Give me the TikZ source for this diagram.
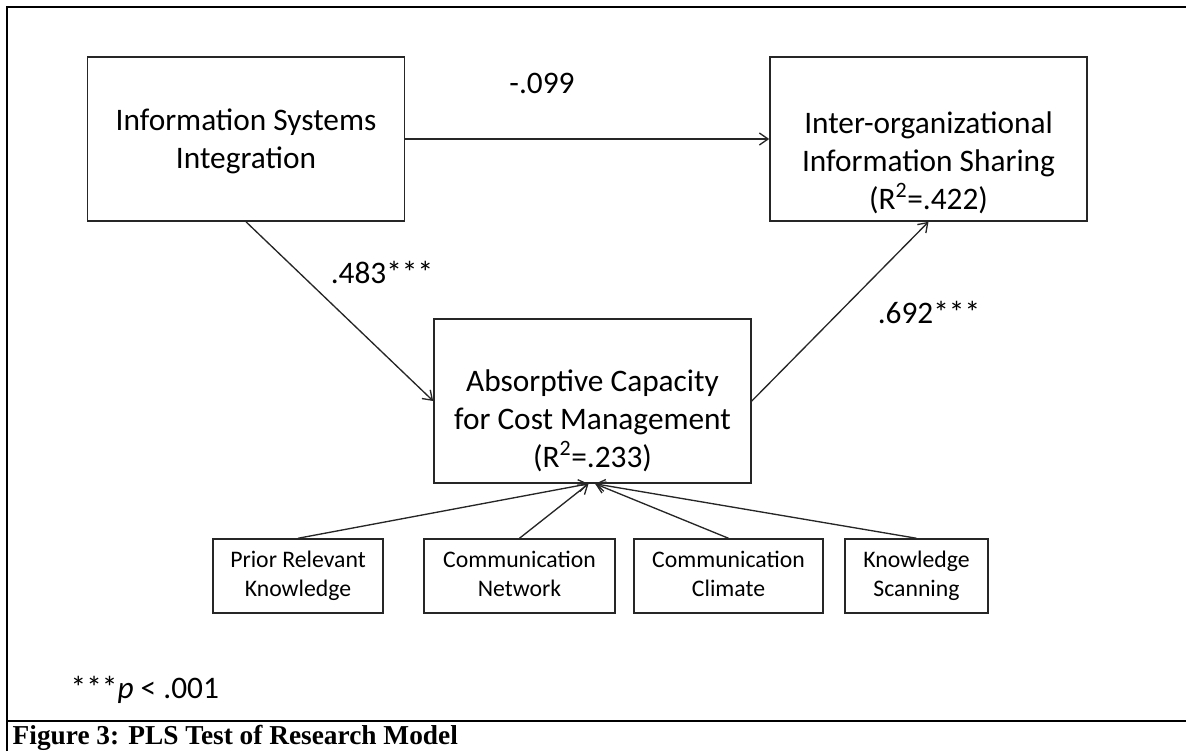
\documentclass[tikz,border=0pt]{standalone}
\usepackage{fontspec}
\setmainfont{Carlito}
\newfontfamily\capfont{Liberation Serif}
\usetikzlibrary{arrows.meta}

\begin{document}
\begin{tikzpicture}[
    x=0.75pt, y=-0.75pt,
    >={Straight Barb[length=6.5pt,width=9pt]},
    box/.style={
        draw=black!85,
        line width=1.2pt,
        inner sep=0pt,
        minimum width=237.75pt,
        minimum height=123pt
    },
    txt/.style={
        align=center,
        font=\fontsize{23.5}{28.5}\selectfont
    },
    smallbox/.style={
        draw=black!85,
        line width=1.1pt,
        inner sep=0pt,
        minimum height=55.5pt,
        align=center,
        font=\fontsize{17.8}{21.75}\selectfont
    },
    coef/.style={font=\fontsize{23.5}{28}\selectfont},
    arr/.style={->, line width=1pt, black!85}
]
    \useasboundingbox (0,0) rectangle (1186,751);

    % frame of the figure
    \draw[line width=2pt] (7,751) -- (7,7) -- (1186,7);
    \draw[line width=2pt] (7,721) -- (1186,721);

    % constructs
    \node[box] (isi) at (246,139) {};
    \node[txt] (isit) at (246,141)
        {Information Systems\\Integration};
    \node[box] (iois) at (928.5,139) {};
    \node[txt] (ioist) at (928.5,163)
        {Inter-organizational\\Information Sharing\\(R\textsuperscript{2}=.422)};
    \node[box] (accm) at (592.5,401) {};
    \node[txt] (accmt) at (592.5,421)
        {Absorptive Capacity\\for Cost Management\\(R\textsuperscript{2}=.233)};

    % formative indicators
    \node[smallbox, minimum width=127.5pt] (prk) at (298,576)
        {\strut Prior Relevant\\\strut Knowledge};
    \node[smallbox, minimum width=143.25pt] (cn) at (519.5,576)
        {\strut Communication\\\strut Network};
    \node[smallbox, minimum width=141.75pt] (cc) at (728.5,576)
        {\strut Communication\\\strut Climate};
    \node[smallbox, minimum width=107.25pt] (ks) at (916.5,576)
        {\strut Knowledge\\\strut Scanning};

    % paths
    \draw[arr] (isi) -- (iois);
    \draw[arr] (isi.south) -- (accm.west);
    \draw[arr] (accm.east) -- (iois.south);
    \draw[arr] (prk.north) -- ([xshift=-3pt]accm.south);
    \draw[arr] (cn.north) -- ([xshift=-3pt]accm.south);
    \draw[arr] (cc.north) -- ([xshift=2pt]accm.south);
    \draw[arr] (ks.north) -- ([xshift=2pt]accm.south);

    \node[coef] (b1) at (542,83) {-.099};
    \node[coef] (b2) at (382,272) {.483***};
    \node[coef] (b3) at (929,312) {.692***};

    \node[coef, anchor=west] (sig) at (66,690) {***\textit{p} < .001};
    \node[anchor=west, font=\capfont\bfseries\fontsize{20.5}{22}\selectfont]
        (cap) at (8,738) {Figure 3: PLS Test of Research Model};
\end{tikzpicture}
\end{document}
